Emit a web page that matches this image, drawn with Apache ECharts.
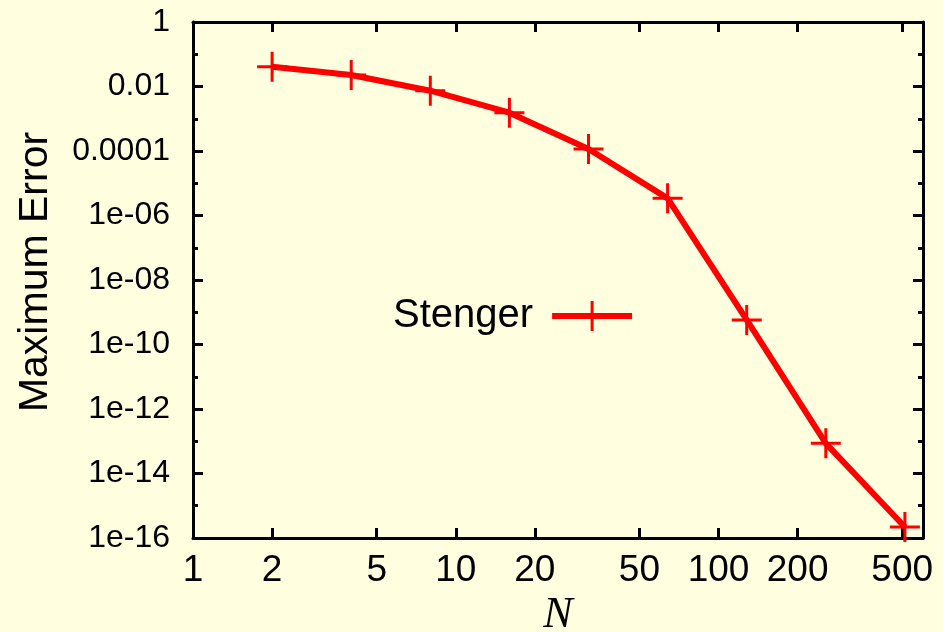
<!DOCTYPE html>
<html>
<head>
<meta charset="utf-8">
<title>Maximum Error vs N</title>
<script src="https://cdn.jsdelivr.net/npm/echarts@6/dist/echarts.min.js"></script>
<style>
  html, body { margin: 0; padding: 0; background: #ffffe0; }
  #chart { width: 943px; height: 632px; }
</style>
</head>
<body>
<div id="chart"></div>
<script>
// data
const nValues = [2, 4, 8, 16, 32, 64, 128, 256, 512]
const stengerErr = [0.041, 0.0227, 0.0074, 0.00154, 1.15e-4, 3.4e-6, 5.8e-10, 8.6e-14, 2.2e-16]

// tick values / labels
const xTickVals = [1, 2, 5, 10, 20, 50, 100, 200, 500]
const yTickVals = [1, 1e-2, 1e-4, 1e-6, 1e-8, 1e-10, 1e-12, 1e-14, 1e-16]
const yTickLabels = ['1', '0.01', '0.0001', '1e-06', '1e-08', '1e-10', '1e-12', '1e-14', '1e-16']
const yMinorVals = [1e-1, 1e-3, 1e-5, 1e-7, 1e-9, 1e-11, 1e-13, 1e-15]

const FONT = 'Liberation Sans'
const RED = '#ff0000'
// plus-shaped marker, like gnuplot pointtype 1
const plusPath = 'path://M13.5,0h3v30h-3zM0,13.5h30v3h-30z'

function yLabel(v) {
  let best = 0
  for (let i = 0; i < yTickVals.length; i++) {
    if (Math.abs(Math.log10(yTickVals[i]) - Math.log10(v)) < Math.abs(Math.log10(yTickVals[best]) - Math.log10(v))) best = i
  }
  return yTickLabels[best]
}

const axisLine = { show: true, lineStyle: { color: '#000', width: 3 } }

function mirrorY(position, vals, len) {
  return {
    type: 'log', logBase: 10, min: 1e-16, max: 1, position: position,
    axisLine: { show: false },
    axisTick: { show: true, inside: true, length: len, customValues: vals, lineStyle: { color: '#000', width: 3 } },
    axisLabel: { show: false },
    splitLine: { show: false },
  }
}

let chart = echarts.init(document.getElementById('chart'))
let option = {
  backgroundColor: '#ffffe0',
  animation: false,
  grid: { left: 193, right: 20, top: 22, bottom: 94, containLabel: false, outerBoundsMode: 'none' },
  legend: {
    left: 393,
    top: 296,
    padding: 0,
    align: 'right',
    itemWidth: 80,
    itemHeight: 37.5,
    textStyle: { fontFamily: FONT, fontSize: 40, color: '#000', padding: [0, 14, 0, 0] },
    lineStyle: { width: 6 },
    data: ['Stenger'],
  },
  xAxis: [
    {
      type: 'log', logBase: 10, min: 1, max: 600, position: 'bottom',
      name: 'N',
      nameLocation: 'middle',
      nameGap: 52,
      nameTextStyle: { fontFamily: 'Liberation Serif', fontStyle: 'italic', fontSize: 44, color: '#000' },
      axisLine: axisLine,
      axisTick: { show: true, inside: true, length: 10, customValues: xTickVals, lineStyle: { color: '#000', width: 3 } },
      axisLabel: { customValues: xTickVals, margin: 14, fontFamily: FONT, fontSize: 37, color: '#000', formatter: v => String(Math.round(v)) },
      splitLine: { show: false },
    },
    {
      type: 'log', logBase: 10, min: 1, max: 600, position: 'top',
      axisLine: axisLine,
      axisTick: { show: true, inside: true, length: 10, customValues: xTickVals, lineStyle: { color: '#000', width: 3 } },
      axisLabel: { show: false },
      splitLine: { show: false },
    },
  ],
  yAxis: [
    {
      type: 'log', logBase: 10, min: 1e-16, max: 1, position: 'left',
      name: 'Maximum Error',
      nameLocation: 'middle',
      nameGap: 137,
      nameTextStyle: { fontFamily: FONT, fontSize: 41, color: '#000', padding: [0, 0, 0, 16] },
      axisLine: axisLine,
      axisTick: { show: true, inside: true, length: 10, customValues: yTickVals, lineStyle: { color: '#000', width: 3 } },
      axisLabel: { customValues: yTickVals, margin: 23, fontFamily: FONT, fontSize: 32, color: '#000', formatter: yLabel },
      splitLine: { show: false },
    },
    Object.assign(mirrorY('right', yTickVals, 10), { axisLine: axisLine }),
    mirrorY('left', yMinorVals, 5),
    mirrorY('right', yMinorVals, 5),
  ],
  series: [
    {
      name: 'Stenger',
      type: 'line',
      xAxisIndex: 0,
      yAxisIndex: 0,
      data: nValues.map((n, i) => [n, stengerErr[i]]),
      symbol: plusPath,
      symbolSize: 30,
      symbolKeepAspect: true,
      clip: false,
      itemStyle: { color: RED },
      lineStyle: { color: RED, width: 6 },
    },
  ],
}
chart.setOption(option)
</script>
</body>
</html>
